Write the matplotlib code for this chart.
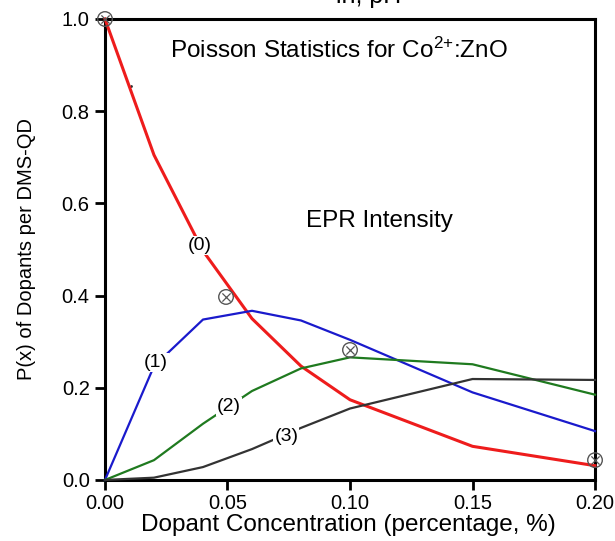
import matplotlib
matplotlib.use("Agg")
import matplotlib.pyplot as plt

plt.rcParams['font.family'] = ['Liberation Sans', 'DejaVu Sans']
plt.rcParams['mathtext.fontset'] = 'custom'
plt.rcParams['mathtext.rm'] = 'Liberation Sans'
plt.rcParams['mathtext.it'] = 'Liberation Sans:italic'

conc = [0.00, 0.02, 0.04, 0.06, 0.08, 0.10, 0.15, 0.20]
p0 = [1.0, 0.705, 0.497, 0.350, 0.247, 0.174, 0.073, 0.031]
p1 = [0.0, 0.247, 0.348, 0.367, 0.346, 0.304, 0.190, 0.106]
p2 = [0.0, 0.043, 0.122, 0.193, 0.242, 0.266, 0.251, 0.185]
p3 = [0.0, 0.005, 0.028, 0.067, 0.113, 0.155, 0.219, 0.217]

series = [("(0)", p0, "#ee1c1c", 2.2, 0.0388, 0.508),
          ("(1)", p1, "#1a1acc", 1.6, 0.0208, 0.254),
          ("(2)", p2, "#1f7a1f", 1.6, 0.0507, 0.160),
          ("(3)", p3, "#333333", 1.6, 0.0740, 0.095)]

epr_x = [0.0, 0.0494, 0.100, 0.200]
epr_y = [1.0, 0.397, 0.282, 0.043]

xticks = [0.00, 0.05, 0.10, 0.15, 0.20]
yticks = [0.0, 0.2, 0.4, 0.6, 0.8, 1.0]

fig = plt.figure(figsize=(6.15, 5.41), dpi=100)
ax = fig.add_axes([0.1707, 0.1128, 0.7968, 0.8521])

for lab, ys, col, lw, lx, ly in series:
    ax.plot(conc, ys, color=col, lw=lw, zorder=3, clip_on=False)
    ax.text(lx, ly, lab, fontsize=14, ha='center', va='center', zorder=5,
            bbox=dict(boxstyle='square,pad=0.05', fc='white', ec='none'))

ax.scatter(epr_x, epr_y, s=110, marker='o', facecolor='none', edgecolor='#555555',
           lw=1.0, zorder=6, clip_on=False)
ax.scatter(epr_x, epr_y, s=35, marker='x', color='#555555', lw=0.9, zorder=6, clip_on=False)

ax.set_xlim(0, 0.20)
ax.set_ylim(0, 1.0)
ax.set_xticks(xticks)
ax.set_xticklabels([f"{v:.2f}" for v in xticks])
ax.set_yticks(yticks)
ax.set_yticklabels([f"{v:.1f}" for v in yticks])
ax.tick_params(direction='out', length=7, width=2, labelsize=14.5)
ax.tick_params(axis='x', pad=3)
ax.tick_params(axis='y', pad=4)
for sp in ax.spines.values():
    sp.set_linewidth(2.2)

ax.set_xlabel("Dopant Concentration (percentage, %)", fontsize=17.5, va='baseline')
ax.xaxis.set_label_coords(0.496, -0.111)
ax.set_ylabel("P(x) of Dopants per DMS-QD", fontsize=14.5, va='center')
ax.yaxis.set_label_coords(-0.161, 0.50)

ax.text(0.477, 0.933, "Poisson Statistics for Co$^{2{+}}$:ZnO", transform=ax.transAxes,
        ha='center', va='center', fontsize=17.5)
ax.text(0.112, 0.562, "EPR Intensity", ha='center', va='center', fontsize=17.5)
ax.plot([0.0108], [0.855], marker='.', color='#333333', ms=2)

fig.text(0.60, 1 - 3 / 541, "ln, pH", ha='center', va='baseline', fontsize=18)

fig.savefig("out.png", dpi=100)
